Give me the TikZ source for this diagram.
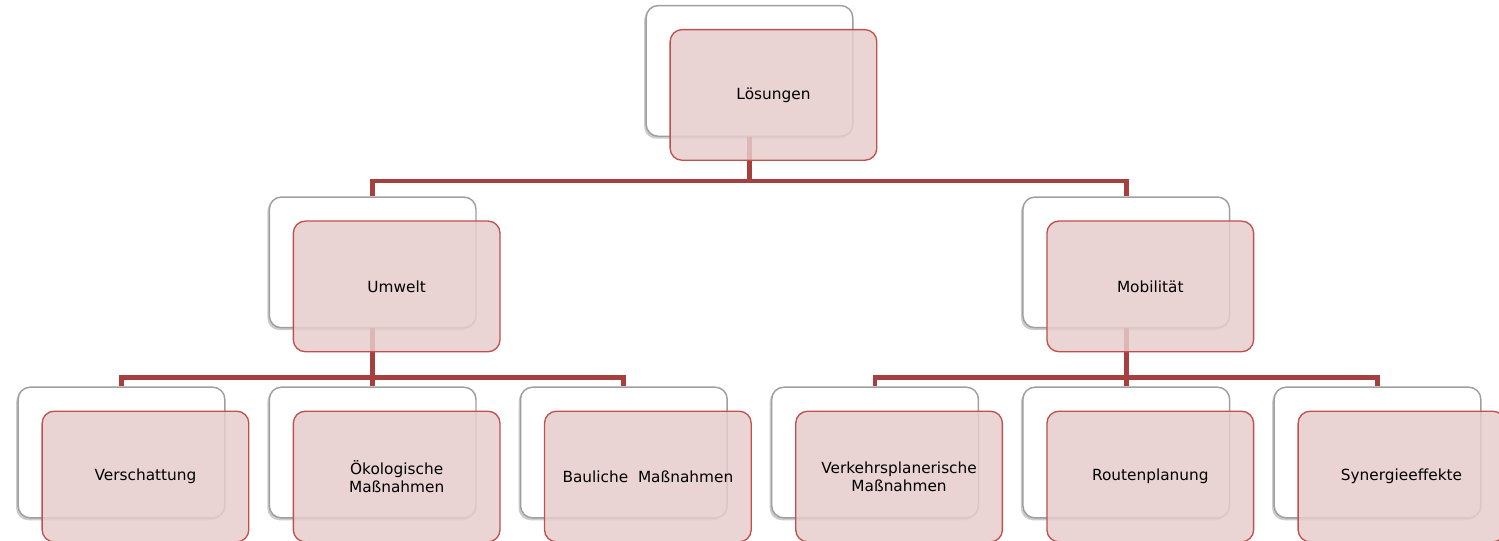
\documentclass[tikz,border=0pt]{standalone}
\usepackage{fontspec}
\setmainfont{DejaVu Sans}
\usetikzlibrary{positioning, calc, shadows}
\definecolor{boxred}{RGB}{192,80,77}
\definecolor{boxpink}{RGB}{230,204,204}
\definecolor{linered}{RGB}{165,64,62}

\begin{document}
\begin{tikzpicture}[
    every node/.style={inner sep=0pt},
    back/.style={draw=gray!75, line width=1.1pt, fill=white, rounded corners=9pt,
        minimum width=155pt, minimum height=98pt,
        drop shadow={shadow xshift=-1.5pt, shadow yshift=-1.8pt, opacity=0.4}},
    front/.style={draw=boxred, line width=1pt, fill=boxpink, fill opacity=0.85, text opacity=1,
        rounded corners=9pt, minimum width=155pt, minimum height=98pt, align=center,
        font=\fontsize{11.5}{13.5}\selectfont},
    conn/.style={draw=linered, line width=3.6pt}]

% Page frame
\useasboundingbox (0,0) rectangle (1124.25pt,-405.75pt);

% Bottom row (back boxes)
\node[back] (vers-b) at (91.1pt,-339.4pt) {};
\node[back, right=32.3pt of vers-b] (oeko-b) {};
\node[back, right=32.3pt of oeko-b] (baul-b) {};
\node[back, right=32.3pt of baul-b] (verk-b) {};
\node[back, right=32.3pt of verk-b] (route-b) {};
\node[back, right=32.3pt of route-b] (syn-b) {};

% Middle row - above the middle leaf of each group
\node[back, above=43.5pt of oeko-b] (umw-b) {};
\node[back, above=43.5pt of route-b] (mob-b) {};

% Top box - centered over the middle row
\coordinate (mid) at ($(umw-b.north)!0.5!(mob-b.north)$);
\node[back, above=44.5pt of mid] (loes-b) {};

% Connectors (under the front boxes)
\foreach \c in {umw, mob}
    \draw[conn] (loes-b.south) -- ++(0,-33pt) -| (\c-b.north);
\foreach \c in {vers, oeko, baul}
    \draw[conn] (umw-b.south) -- ++(0,-36.75pt) -| (\c-b.north);
\foreach \c in {verk, route, syn}
    \draw[conn] (mob-b.south) -- ++(0,-36.75pt) -| (\c-b.north);

% Front boxes with the labels
\foreach \n/\t in {loes/Lösungen, umw/Umwelt, mob/Mobilität,
        vers/Verschattung, oeko/{Ökologische\\Maßnahmen}, baul/{Bauliche\ \ Maßnahmen},
        verk/{Verkehrsplanerische\\Maßnahmen}, route/Routenplanung, syn/Synergieeffekte}
    \node[front] (\n) at ([shift={(18pt,-18pt)}]\n-b) {\t};
\end{tikzpicture}
\end{document}
